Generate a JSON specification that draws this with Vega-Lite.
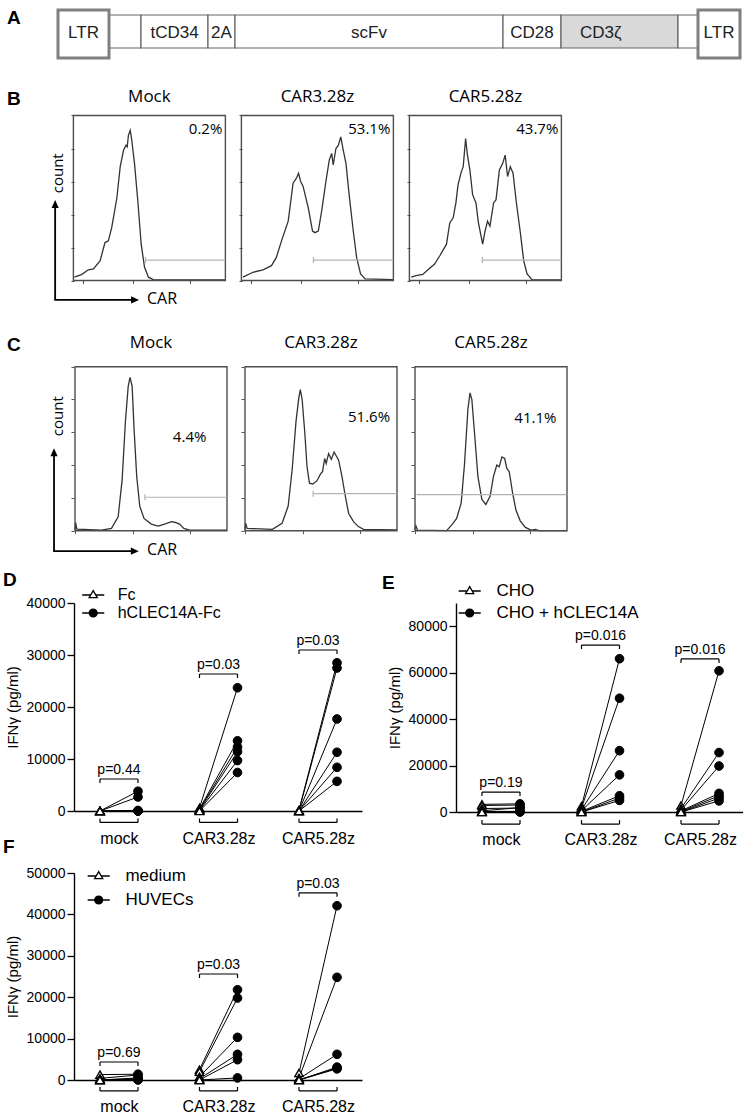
{
"$schema": "https://vega.github.io/schema/vega-lite/v6.json",
"background": "white",
"padding": {"left": 3, "top": 0, "right": 0, "bottom": 0},
"config": {"view": {"stroke": null}, "font": "Liberation Sans", "axis": {"grid": false, "labelFont": "Liberation Sans", "titleFont": "Liberation Sans"}, "legend": {"labelFont": "Liberation Sans"}},
"datasets": {
"construct": [
{"name":"LTR","start":56,"end":107,"kind":"ltr"},
{"name":"","start":107,"end":139,"kind":"seg"},
{"name":"tCD34","start":139,"end":206,"kind":"seg"},
{"name":"2A","start":206,"end":233,"kind":"seg"},
{"name":"scFv","start":233,"end":501,"kind":"seg"},
{"name":"CD28","start":501,"end":559,"kind":"seg"},
{"name":"CD3ζ","start":559,"end":676,"kind":"cd3"},
{"name":"","start":676,"end":696,"kind":"seg"},
{"name":"LTR","start":696,"end":738,"kind":"ltr"}
],
"flow": [
{"p":"B1","sample":"Mock","pct":"0.2%","gate":2.37},
{"p":"B2","sample":"CAR3.28z","pct":"53.1%","gate":2.37},
{"p":"B3","sample":"CAR5.28z","pct":"43.7%","gate":2.4},
{"p":"C1","sample":"Mock","pct":"4.4%","gate":2.3},
{"p":"C2","sample":"CAR3.28z","pct":"51.6%","gate":2.24},
{"p":"C3","sample":"CAR5.28z","pct":"41.1%","gate":0.05}
],
"hist": [
{"p":"B1","x":0.03,"c":2},{"p":"B1","x":0.27,"c":3.6},{"p":"B1","x":0.49,"c":6.5},{"p":"B1","x":0.66,"c":7},{"p":"B1","x":0.88,"c":12},{"p":"B1","x":1.04,"c":23},{"p":"B1","x":1.15,"c":24},{"p":"B1","x":1.26,"c":32},{"p":"B1","x":1.43,"c":50},{"p":"B1","x":1.54,"c":69},{"p":"B1","x":1.65,"c":79},{"p":"B1","x":1.73,"c":82},{"p":"B1","x":1.77,"c":81},{"p":"B1","x":1.81,"c":88},{"p":"B1","x":1.87,"c":91},{"p":"B1","x":1.92,"c":85},{"p":"B1","x":2.01,"c":71},{"p":"B1","x":2.12,"c":48},{"p":"B1","x":2.23,"c":22},{"p":"B1","x":2.34,"c":8},{"p":"B1","x":2.47,"c":2},{"p":"B1","x":2.64,"c":0.4},{"p":"B1","x":5,"c":0.4},
{"p":"B2","x":0.05,"c":2},{"p":"B2","x":0.38,"c":5},{"p":"B2","x":0.71,"c":6.5},{"p":"B2","x":0.99,"c":9},{"p":"B2","x":1.15,"c":14},{"p":"B2","x":1.32,"c":24},{"p":"B2","x":1.54,"c":36},{"p":"B2","x":1.7,"c":59},{"p":"B2","x":1.81,"c":62},{"p":"B2","x":1.88,"c":65},{"p":"B2","x":1.95,"c":60},{"p":"B2","x":2.03,"c":57},{"p":"B2","x":2.2,"c":44},{"p":"B2","x":2.34,"c":30},{"p":"B2","x":2.42,"c":29},{"p":"B2","x":2.53,"c":30},{"p":"B2","x":2.64,"c":42},{"p":"B2","x":2.78,"c":60},{"p":"B2","x":2.89,"c":73},{"p":"B2","x":2.97,"c":77},{"p":"B2","x":3.02,"c":70},{"p":"B2","x":3.11,"c":80},{"p":"B2","x":3.19,"c":82},{"p":"B2","x":3.27,"c":87},{"p":"B2","x":3.35,"c":79},{"p":"B2","x":3.44,"c":71},{"p":"B2","x":3.55,"c":51},{"p":"B2","x":3.68,"c":30},{"p":"B2","x":3.79,"c":14},{"p":"B2","x":3.92,"c":4},{"p":"B2","x":4.07,"c":1},{"p":"B2","x":5,"c":0.5},
{"p":"B3","x":0.06,"c":2},{"p":"B3","x":0.22,"c":3},{"p":"B3","x":0.44,"c":3.7},{"p":"B3","x":0.61,"c":6.5},{"p":"B3","x":0.83,"c":10},{"p":"B3","x":1.0,"c":15},{"p":"B3","x":1.22,"c":22},{"p":"B3","x":1.33,"c":35},{"p":"B3","x":1.44,"c":38},{"p":"B3","x":1.53,"c":47},{"p":"B3","x":1.6,"c":58},{"p":"B3","x":1.71,"c":66},{"p":"B3","x":1.77,"c":69},{"p":"B3","x":1.85,"c":86},{"p":"B3","x":1.91,"c":76},{"p":"B3","x":1.99,"c":67},{"p":"B3","x":2.08,"c":52},{"p":"B3","x":2.19,"c":47},{"p":"B3","x":2.27,"c":35},{"p":"B3","x":2.41,"c":22},{"p":"B3","x":2.49,"c":30},{"p":"B3","x":2.57,"c":36},{"p":"B3","x":2.65,"c":33},{"p":"B3","x":2.77,"c":47},{"p":"B3","x":2.85,"c":49},{"p":"B3","x":2.96,"c":67},{"p":"B3","x":3.07,"c":71},{"p":"B3","x":3.15,"c":76},{"p":"B3","x":3.23,"c":63},{"p":"B3","x":3.32,"c":69},{"p":"B3","x":3.41,"c":65},{"p":"B3","x":3.52,"c":47},{"p":"B3","x":3.65,"c":29},{"p":"B3","x":3.76,"c":12},{"p":"B3","x":3.87,"c":4},{"p":"B3","x":4.04,"c":0.4},{"p":"B3","x":5,"c":0.4},
{"p":"C1","x":0.0,"c":0.5},{"p":"C1","x":0.02,"c":5},{"p":"C1","x":0.06,"c":1},{"p":"C1","x":0.87,"c":0.4},{"p":"C1","x":1.2,"c":1.4},{"p":"C1","x":1.42,"c":8.5},{"p":"C1","x":1.55,"c":31},{"p":"C1","x":1.66,"c":67},{"p":"C1","x":1.75,"c":88},{"p":"C1","x":1.81,"c":93.5},{"p":"C1","x":1.88,"c":88},{"p":"C1","x":1.94,"c":63},{"p":"C1","x":2.03,"c":33},{"p":"C1","x":2.13,"c":15},{"p":"C1","x":2.27,"c":7.5},{"p":"C1","x":2.51,"c":4},{"p":"C1","x":2.73,"c":2.8},{"p":"C1","x":2.95,"c":4},{"p":"C1","x":3.17,"c":5.5},{"p":"C1","x":3.3,"c":5},{"p":"C1","x":3.44,"c":4},{"p":"C1","x":3.58,"c":1.4},{"p":"C1","x":3.77,"c":0.4},{"p":"C1","x":5,"c":0.4},
{"p":"C2","x":0.0,"c":0.5},{"p":"C2","x":0.02,"c":4.5},{"p":"C2","x":0.07,"c":1.4},{"p":"C2","x":0.9,"c":0.8},{"p":"C2","x":1.22,"c":4.5},{"p":"C2","x":1.42,"c":15},{"p":"C2","x":1.55,"c":37},{"p":"C2","x":1.68,"c":67},{"p":"C2","x":1.77,"c":81},{"p":"C2","x":1.82,"c":86},{"p":"C2","x":1.88,"c":80},{"p":"C2","x":1.97,"c":59},{"p":"C2","x":2.04,"c":39},{"p":"C2","x":2.12,"c":29},{"p":"C2","x":2.23,"c":28.5},{"p":"C2","x":2.37,"c":30.5},{"p":"C2","x":2.48,"c":34.5},{"p":"C2","x":2.55,"c":36},{"p":"C2","x":2.62,"c":44},{"p":"C2","x":2.67,"c":41},{"p":"C2","x":2.75,"c":47},{"p":"C2","x":2.84,"c":43.5},{"p":"C2","x":2.93,"c":48},{"p":"C2","x":2.99,"c":46},{"p":"C2","x":3.08,"c":43},{"p":"C2","x":3.19,"c":33},{"p":"C2","x":3.3,"c":21},{"p":"C2","x":3.41,"c":10.5},{"p":"C2","x":3.57,"c":5.5},{"p":"C2","x":3.73,"c":2.5},{"p":"C2","x":3.9,"c":0.8},{"p":"C2","x":5,"c":0.5},
{"p":"C3","x":0.0,"c":0.5},{"p":"C3","x":0.02,"c":3.5},{"p":"C3","x":0.08,"c":0.4},{"p":"C3","x":1.04,"c":0},{"p":"C3","x":1.21,"c":3.5},{"p":"C3","x":1.37,"c":7.5},{"p":"C3","x":1.52,"c":17},{"p":"C3","x":1.63,"c":41},{"p":"C3","x":1.74,"c":74},{"p":"C3","x":1.81,"c":84},{"p":"C3","x":1.87,"c":80},{"p":"C3","x":1.96,"c":59},{"p":"C3","x":2.07,"c":33},{"p":"C3","x":2.2,"c":19},{"p":"C3","x":2.33,"c":16},{"p":"C3","x":2.47,"c":21},{"p":"C3","x":2.58,"c":33},{"p":"C3","x":2.69,"c":40},{"p":"C3","x":2.77,"c":39},{"p":"C3","x":2.86,"c":45},{"p":"C3","x":2.95,"c":44},{"p":"C3","x":3.02,"c":38},{"p":"C3","x":3.1,"c":36},{"p":"C3","x":3.21,"c":23},{"p":"C3","x":3.32,"c":12.6},{"p":"C3","x":3.46,"c":6},{"p":"C3","x":3.63,"c":2},{"p":"C3","x":3.82,"c":0.4},{"p":"C3","x":3.96,"c":0.8},{"p":"C3","x":4.07,"c":0},{"p":"C3","x":5,"c":0}
],
"dD": [
{"cell":"mock","donor":1,"treat":"Fc","v":0},{"cell":"mock","donor":2,"treat":"Fc","v":0},{"cell":"mock","donor":3,"treat":"Fc","v":0},{"cell":"mock","donor":4,"treat":"Fc","v":0},{"cell":"mock","donor":5,"treat":"Fc","v":0},{"cell":"mock","donor":6,"treat":"Fc","v":0},
{"cell":"mock","donor":1,"treat":"hCLEC14A-Fc","v":3800},{"cell":"mock","donor":2,"treat":"hCLEC14A-Fc","v":2700},{"cell":"mock","donor":3,"treat":"hCLEC14A-Fc","v":100},{"cell":"mock","donor":4,"treat":"hCLEC14A-Fc","v":0},{"cell":"mock","donor":5,"treat":"hCLEC14A-Fc","v":0},{"cell":"mock","donor":6,"treat":"hCLEC14A-Fc","v":0},
{"cell":"CAR3.28z","donor":1,"treat":"Fc","v":600},{"cell":"CAR3.28z","donor":2,"treat":"Fc","v":400},{"cell":"CAR3.28z","donor":3,"treat":"Fc","v":300},{"cell":"CAR3.28z","donor":4,"treat":"Fc","v":200},{"cell":"CAR3.28z","donor":5,"treat":"Fc","v":100},{"cell":"CAR3.28z","donor":6,"treat":"Fc","v":0},
{"cell":"CAR3.28z","donor":1,"treat":"hCLEC14A-Fc","v":23700},{"cell":"CAR3.28z","donor":2,"treat":"hCLEC14A-Fc","v":13500},{"cell":"CAR3.28z","donor":3,"treat":"hCLEC14A-Fc","v":12300},{"cell":"CAR3.28z","donor":4,"treat":"hCLEC14A-Fc","v":11400},{"cell":"CAR3.28z","donor":5,"treat":"hCLEC14A-Fc","v":9700},{"cell":"CAR3.28z","donor":6,"treat":"hCLEC14A-Fc","v":7400},
{"cell":"CAR5.28z","donor":1,"treat":"Fc","v":200},{"cell":"CAR5.28z","donor":2,"treat":"Fc","v":100},{"cell":"CAR5.28z","donor":3,"treat":"Fc","v":0},{"cell":"CAR5.28z","donor":4,"treat":"Fc","v":0},{"cell":"CAR5.28z","donor":5,"treat":"Fc","v":0},{"cell":"CAR5.28z","donor":6,"treat":"Fc","v":0},
{"cell":"CAR5.28z","donor":1,"treat":"hCLEC14A-Fc","v":28500},{"cell":"CAR5.28z","donor":2,"treat":"hCLEC14A-Fc","v":27500},{"cell":"CAR5.28z","donor":3,"treat":"hCLEC14A-Fc","v":17700},{"cell":"CAR5.28z","donor":4,"treat":"hCLEC14A-Fc","v":11300},{"cell":"CAR5.28z","donor":5,"treat":"hCLEC14A-Fc","v":8400},{"cell":"CAR5.28z","donor":6,"treat":"hCLEC14A-Fc","v":5700}
],
"dE": [
{"cell":"mock","donor":1,"treat":"CHO","v":3300},{"cell":"mock","donor":2,"treat":"CHO","v":2800},{"cell":"mock","donor":3,"treat":"CHO","v":1500},{"cell":"mock","donor":4,"treat":"CHO","v":500},{"cell":"mock","donor":5,"treat":"CHO","v":200},{"cell":"mock","donor":6,"treat":"CHO","v":0},{"cell":"mock","donor":7,"treat":"CHO","v":0},
{"cell":"mock","donor":1,"treat":"CHO + hCLEC14A","v":3500},{"cell":"mock","donor":2,"treat":"CHO + hCLEC14A","v":3000},{"cell":"mock","donor":3,"treat":"CHO + hCLEC14A","v":1700},{"cell":"mock","donor":4,"treat":"CHO + hCLEC14A","v":1900},{"cell":"mock","donor":5,"treat":"CHO + hCLEC14A","v":300},{"cell":"mock","donor":6,"treat":"CHO + hCLEC14A","v":0},{"cell":"mock","donor":7,"treat":"CHO + hCLEC14A","v":100},
{"cell":"CAR3.28z","donor":1,"treat":"CHO","v":2500},{"cell":"CAR3.28z","donor":2,"treat":"CHO","v":1800},{"cell":"CAR3.28z","donor":3,"treat":"CHO","v":1000},{"cell":"CAR3.28z","donor":4,"treat":"CHO","v":600},{"cell":"CAR3.28z","donor":5,"treat":"CHO","v":300},{"cell":"CAR3.28z","donor":6,"treat":"CHO","v":0},{"cell":"CAR3.28z","donor":7,"treat":"CHO","v":0},
{"cell":"CAR3.28z","donor":1,"treat":"CHO + hCLEC14A","v":66000},{"cell":"CAR3.28z","donor":2,"treat":"CHO + hCLEC14A","v":49000},{"cell":"CAR3.28z","donor":3,"treat":"CHO + hCLEC14A","v":26400},{"cell":"CAR3.28z","donor":4,"treat":"CHO + hCLEC14A","v":16000},{"cell":"CAR3.28z","donor":5,"treat":"CHO + hCLEC14A","v":7000},{"cell":"CAR3.28z","donor":6,"treat":"CHO + hCLEC14A","v":6000},{"cell":"CAR3.28z","donor":7,"treat":"CHO + hCLEC14A","v":5000},
{"cell":"CAR5.28z","donor":1,"treat":"CHO","v":2800},{"cell":"CAR5.28z","donor":2,"treat":"CHO","v":1500},{"cell":"CAR5.28z","donor":3,"treat":"CHO","v":800},{"cell":"CAR5.28z","donor":4,"treat":"CHO","v":500},{"cell":"CAR5.28z","donor":5,"treat":"CHO","v":200},{"cell":"CAR5.28z","donor":6,"treat":"CHO","v":0},{"cell":"CAR5.28z","donor":7,"treat":"CHO","v":0},
{"cell":"CAR5.28z","donor":1,"treat":"CHO + hCLEC14A","v":60800},{"cell":"CAR5.28z","donor":2,"treat":"CHO + hCLEC14A","v":25600},{"cell":"CAR5.28z","donor":3,"treat":"CHO + hCLEC14A","v":19800},{"cell":"CAR5.28z","donor":4,"treat":"CHO + hCLEC14A","v":8000},{"cell":"CAR5.28z","donor":5,"treat":"CHO + hCLEC14A","v":7000},{"cell":"CAR5.28z","donor":6,"treat":"CHO + hCLEC14A","v":6000},{"cell":"CAR5.28z","donor":7,"treat":"CHO + hCLEC14A","v":4800}
],
"dF": [
{"cell":"mock","donor":1,"treat":"medium","v":1300},{"cell":"mock","donor":2,"treat":"medium","v":400},{"cell":"mock","donor":3,"treat":"medium","v":0},{"cell":"mock","donor":4,"treat":"medium","v":0},{"cell":"mock","donor":5,"treat":"medium","v":0},{"cell":"mock","donor":6,"treat":"medium","v":0},
{"cell":"mock","donor":1,"treat":"HUVECs","v":1400},{"cell":"mock","donor":2,"treat":"HUVECs","v":1200},{"cell":"mock","donor":3,"treat":"HUVECs","v":500},{"cell":"mock","donor":4,"treat":"HUVECs","v":300},{"cell":"mock","donor":5,"treat":"HUVECs","v":100},{"cell":"mock","donor":6,"treat":"HUVECs","v":0},
{"cell":"CAR3.28z","donor":1,"treat":"medium","v":2500},{"cell":"CAR3.28z","donor":2,"treat":"medium","v":2000},{"cell":"CAR3.28z","donor":3,"treat":"medium","v":800},{"cell":"CAR3.28z","donor":4,"treat":"medium","v":300},{"cell":"CAR3.28z","donor":5,"treat":"medium","v":0},{"cell":"CAR3.28z","donor":6,"treat":"medium","v":0},
{"cell":"CAR3.28z","donor":1,"treat":"HUVECs","v":21800},{"cell":"CAR3.28z","donor":2,"treat":"HUVECs","v":19800},{"cell":"CAR3.28z","donor":3,"treat":"HUVECs","v":10300},{"cell":"CAR3.28z","donor":4,"treat":"HUVECs","v":6200},{"cell":"CAR3.28z","donor":5,"treat":"HUVECs","v":4900},{"cell":"CAR3.28z","donor":6,"treat":"HUVECs","v":500},
{"cell":"CAR5.28z","donor":1,"treat":"medium","v":1700},{"cell":"CAR5.28z","donor":2,"treat":"medium","v":500},{"cell":"CAR5.28z","donor":3,"treat":"medium","v":300},{"cell":"CAR5.28z","donor":4,"treat":"medium","v":0},{"cell":"CAR5.28z","donor":5,"treat":"medium","v":0},{"cell":"CAR5.28z","donor":6,"treat":"medium","v":0},
{"cell":"CAR5.28z","donor":1,"treat":"HUVECs","v":42100},{"cell":"CAR5.28z","donor":2,"treat":"HUVECs","v":24800},{"cell":"CAR5.28z","donor":3,"treat":"HUVECs","v":6200},{"cell":"CAR5.28z","donor":4,"treat":"HUVECs","v":3100},{"cell":"CAR5.28z","donor":5,"treat":"HUVECs","v":2900},{"cell":"CAR5.28z","donor":6,"treat":"HUVECs","v":2700}
],
"bD": [
{"cell":"mock","treat":"Fc","lvl":6150,"p":"p=0.44"},{"cell":"mock","treat":"hCLEC14A-Fc","lvl":6150,"p":"p=0.44"},
{"cell":"CAR3.28z","treat":"Fc","lvl":26350,"p":"p=0.03"},{"cell":"CAR3.28z","treat":"hCLEC14A-Fc","lvl":26350,"p":"p=0.03"},
{"cell":"CAR5.28z","treat":"Fc","lvl":30960,"p":"p=0.03"},{"cell":"CAR5.28z","treat":"hCLEC14A-Fc","lvl":30960,"p":"p=0.03"}
],
"bE": [
{"cell":"mock","treat":"CHO","lvl":8600,"p":"p=0.19"},{"cell":"mock","treat":"CHO + hCLEC14A","lvl":8600,"p":"p=0.19"},
{"cell":"CAR3.28z","treat":"CHO","lvl":71900,"p":"p=0.016"},{"cell":"CAR3.28z","treat":"CHO + hCLEC14A","lvl":71900,"p":"p=0.016"},
{"cell":"CAR5.28z","treat":"CHO","lvl":65900,"p":"p=0.016"},{"cell":"CAR5.28z","treat":"CHO + hCLEC14A","lvl":65900,"p":"p=0.016"}
],
"bF": [
{"cell":"mock","treat":"medium","lvl":4350,"p":"p=0.69"},{"cell":"mock","treat":"HUVECs","lvl":4350,"p":"p=0.69"},
{"cell":"CAR3.28z","treat":"medium","lvl":25600,"p":"p=0.03"},{"cell":"CAR3.28z","treat":"HUVECs","lvl":25600,"p":"p=0.03"},
{"cell":"CAR5.28z","treat":"medium","lvl":45200,"p":"p=0.03"},{"cell":"CAR5.28z","treat":"HUVECs","lvl":45200,"p":"p=0.03"}
]
},
"spacing": 0,
"resolve": {"scale": {"shape": "independent"}, "legend": {"shape": "independent"}},
"vconcat": [
{
"width": 671, "height": 66,
"data": {"name": "construct"},
"layer": [
{"transform": [{"filter": "datum.kind !== 'ltr'"}],
 "mark": {"type": "rect", "stroke": "#666666", "strokeWidth": 1.2},
 "encoding": {
  "x": {"field": "start", "type": "quantitative", "scale": {"domain": [72, 743], "nice": false, "zero": false}, "axis": null},
  "x2": {"field": "end"},
  "y": {"datum": 15, "type": "quantitative", "scale": {"domain": [0, 66], "reverse": true, "nice": false, "zero": false}, "axis": null},
  "y2": {"datum": 48},
  "fill": {"field": "kind", "type": "nominal", "scale": {"domain": ["seg", "cd3"], "range": ["white", "#d9d9d9"]}, "legend": null}}},
{"transform": [{"filter": "datum.kind === 'ltr'"}],
 "mark": {"type": "rect", "fill": "white", "stroke": "#808080", "strokeWidth": 3},
 "encoding": {"x": {"field": "start", "type": "quantitative"}, "x2": {"field": "end"}, "y": {"datum": 10, "type": "quantitative"}, "y2": {"datum": 58}}},
{"transform": [{"filter": "datum.kind !== 'cd3' && datum.name !== ''"}, {"calculate": "(datum.start + datum.end) / 2", "as": "mid"}],
 "mark": {"type": "text", "font": "Liberation Sans", "fontSize": 17, "color": "#222222"},
 "encoding": {"x": {"field": "mid", "type": "quantitative"}, "y": {"datum": 33, "type": "quantitative"}, "text": {"field": "name"}}},
{"transform": [{"filter": "datum.kind === 'cd3'"}],
 "mark": {"type": "text", "font": "Liberation Sans", "fontSize": 17, "color": "#222222", "align": "left", "dx": 19},
 "encoding": {"x": {"field": "start", "type": "quantitative"}, "y": {"datum": 33, "type": "quantitative"}, "text": {"field": "name"}}},
{"data": {"values": [{}]},
 "mark": {"type": "text", "text": "A", "font": "Liberation Sans", "fontSize": 19, "fontWeight": "bold", "align": "left", "color": "black"},
 "encoding": {"x": {"datum": 5, "type": "quantitative"}, "y": {"datum": 18, "type": "quantitative"}}}
]
},
{"spacing": 0, "hconcat": [
{"width": 163.55, "height": 250.8,
"layer": [
{"data": {"name": "hist"}, "transform": [{"filter": "datum.p === 'B1'"}],
 "mark": {"type": "line", "color": "#333333", "strokeWidth": 1.3},
 "encoding": {"x": {"field": "x", "type": "quantitative", "scale": {"domain": [0.02, 5.4], "nice": false, "zero": false}, "axis": {"orient": "bottom", "offset": -36.3, "values": [0,0.301,0.477,0.602,0.699,0.778,0.845,0.903,0.954,1,1.301,1.477,1.602,1.699,1.778,1.845,1.903,1.954,2,2.301,2.477,2.602,2.699,2.778,2.845,2.903,2.954,3,3.301,3.477,3.602,3.699,3.778,3.845,3.903,3.954,4,4.301,4.477,4.602,4.699,4.778,4.845,4.903,4.954,5], "labels": false, "domain": false, "ticks": true, "tickSize": 3, "tickColor": "#555555", "tickWidth": 1, "title": null, "grid": false}},
  "y": {"field": "c", "type": "quantitative", "scale": {"domain": [-22, 130], "nice": false, "zero": false}, "axis": {"values": [0,5,10,15,20,25,30,35,40,45,50,55,60,65,70,75,80,85,90,95,100], "labels": false, "domain": false, "ticks": true, "tickSize": 3, "tickColor": "#555555", "tickWidth": 1, "title": null, "grid": false}}}},
{"data": {"values": [{}]}, "mark": {"type": "rect", "fillOpacity": 0, "stroke": "#4d4d4d", "strokeWidth": 1.4},
 "encoding": {"x": {"datum": 0}, "x2": {"datum": 5}, "y": {"datum": 0}, "y2": {"datum": 100}}},
{"data": {"name": "flow"}, "transform": [{"filter": "datum.p === 'B1'"}],
 "mark": {"type": "rule", "color": "#b3b3b3", "strokeWidth": 1.2},
 "encoding": {"x": {"field": "gate", "type": "quantitative"}, "x2": {"datum": 5}, "y": {"datum": 12.4}}},
{"data": {"name": "flow"}, "transform": [{"filter": "datum.p === 'B1'"}],
 "mark": {"type": "point", "shape": "M0,-1L0,1", "filled": false, "stroke": "#b3b3b3", "strokeWidth": 1.2, "size": 36, "opacity": 1},
 "encoding": {"x": {"field": "gate", "type": "quantitative"}, "y": {"datum": 12.4}}},
{"data": {"name": "flow"}, "transform": [{"filter": "datum.p === 'B1'"}],
 "mark": {"type": "text", "font": "Open Sans", "fontSize": 17, "color": "black"},
 "encoding": {"x": {"datum": 2.5}, "y": {"datum": 111}, "text": {"field": "sample"}}},
{"data": {"name": "flow"}, "transform": [{"filter": "datum.p === 'B1'"}],
 "mark": {"type": "text", "font": "Open Sans", "fontSize": 15, "align": "right", "color": "black"},
 "encoding": {"x": {"datum": 4.9}, "y": {"datum": 92}, "text": {"field": "pct"}}},
{"data": {"values": [{}]}, "mark": {"type": "text", "text": "B", "font": "Liberation Sans", "fontSize": 19, "fontWeight": "bold", "align": "left", "color": "black"},
 "encoding": {"x": {"datum": -2.18}, "y": {"datum": 110}}},
{"data": {"values": [{}]}, "mark": {"type": "text", "text": "count", "font": "Open Sans", "fontSize": 15, "angle": 270, "color": "black"},
 "encoding": {"x": {"datum": -0.5}, "y": {"datum": 65}}},
{"data": {"values": [{}]}, "mark": {"type": "text", "text": "CAR", "font": "Open Sans", "fontSize": 16, "align": "left", "color": "black"},
 "encoding": {"x": {"datum": 2.42}, "y": {"datum": -11.3}}},
{"data": {"values": [{}]}, "mark": {"type": "rule", "color": "black", "strokeWidth": 1.8},
 "encoding": {"x": {"datum": -0.6}, "y": {"datum": -11.8}, "y2": {"datum": 45}}},
{"data": {"values": [{}]}, "mark": {"type": "rule", "color": "black", "strokeWidth": 1.8},
 "encoding": {"x": {"datum": -0.63}, "x2": {"datum": 1.95}, "y": {"datum": -11.8}}},
{"data": {"values": [{}]}, "mark": {"type": "point", "shape": "M0,0L0.9,2L-0.9,2Z", "filled": true, "color": "black", "size": 64, "opacity": 1},
 "encoding": {"x": {"datum": -0.6}, "y": {"datum": 48.8}}},
{"data": {"values": [{}]}, "mark": {"type": "point", "shape": "M0,0L-2,-0.9L-2,0.9Z", "filled": true, "color": "black", "size": 64, "opacity": 1},
 "encoding": {"x": {"datum": 2.16}, "y": {"datum": -11.8}}}
]},
{"width": 163.55, "height": 250.8,
"layer": [
{"data": {"name": "hist"}, "transform": [{"filter": "datum.p === 'B2'"}],
 "mark": {"type": "line", "color": "#333333", "strokeWidth": 1.3},
 "encoding": {"x": {"field": "x", "type": "quantitative", "scale": {"domain": [0.02, 5.4], "nice": false, "zero": false}, "axis": {"orient": "bottom", "offset": -36.3, "values": [0,0.301,0.477,0.602,0.699,0.778,0.845,0.903,0.954,1,1.301,1.477,1.602,1.699,1.778,1.845,1.903,1.954,2,2.301,2.477,2.602,2.699,2.778,2.845,2.903,2.954,3,3.301,3.477,3.602,3.699,3.778,3.845,3.903,3.954,4,4.301,4.477,4.602,4.699,4.778,4.845,4.903,4.954,5], "labels": false, "domain": false, "ticks": true, "tickSize": 3, "tickColor": "#555555", "tickWidth": 1, "title": null, "grid": false}},
  "y": {"field": "c", "type": "quantitative", "scale": {"domain": [-22, 130], "nice": false, "zero": false}, "axis": {"values": [0,5,10,15,20,25,30,35,40,45,50,55,60,65,70,75,80,85,90,95,100], "labels": false, "domain": false, "ticks": true, "tickSize": 3, "tickColor": "#555555", "tickWidth": 1, "title": null, "grid": false}}}},
{"data": {"values": [{}]}, "mark": {"type": "rect", "fillOpacity": 0, "stroke": "#4d4d4d", "strokeWidth": 1.4},
 "encoding": {"x": {"datum": 0}, "x2": {"datum": 5}, "y": {"datum": 0}, "y2": {"datum": 100}}},
{"data": {"name": "flow"}, "transform": [{"filter": "datum.p === 'B2'"}],
 "mark": {"type": "rule", "color": "#b3b3b3", "strokeWidth": 1.2},
 "encoding": {"x": {"field": "gate", "type": "quantitative"}, "x2": {"datum": 5}, "y": {"datum": 12.4}}},
{"data": {"name": "flow"}, "transform": [{"filter": "datum.p === 'B2'"}],
 "mark": {"type": "point", "shape": "M0,-1L0,1", "filled": false, "stroke": "#b3b3b3", "strokeWidth": 1.2, "size": 36, "opacity": 1},
 "encoding": {"x": {"field": "gate", "type": "quantitative"}, "y": {"datum": 12.4}}},
{"data": {"name": "flow"}, "transform": [{"filter": "datum.p === 'B2'"}],
 "mark": {"type": "text", "font": "Open Sans", "fontSize": 17, "color": "black"},
 "encoding": {"x": {"datum": 2.5}, "y": {"datum": 111}, "text": {"field": "sample"}}},
{"data": {"name": "flow"}, "transform": [{"filter": "datum.p === 'B2'"}],
 "mark": {"type": "text", "font": "Open Sans", "fontSize": 15, "align": "right", "color": "black"},
 "encoding": {"x": {"datum": 4.9}, "y": {"datum": 92}, "text": {"field": "pct"}}}
]},
{"width": 154.43, "height": 250.8,
"layer": [
{"data": {"name": "hist"}, "transform": [{"filter": "datum.p === 'B3'"}],
 "mark": {"type": "line", "color": "#333333", "strokeWidth": 1.3},
 "encoding": {"x": {"field": "x", "type": "quantitative", "scale": {"domain": [0.02, 5.1], "nice": false, "zero": false}, "axis": {"orient": "bottom", "offset": -36.3, "values": [0,0.301,0.477,0.602,0.699,0.778,0.845,0.903,0.954,1,1.301,1.477,1.602,1.699,1.778,1.845,1.903,1.954,2,2.301,2.477,2.602,2.699,2.778,2.845,2.903,2.954,3,3.301,3.477,3.602,3.699,3.778,3.845,3.903,3.954,4,4.301,4.477,4.602,4.699,4.778,4.845,4.903,4.954,5], "labels": false, "domain": false, "ticks": true, "tickSize": 3, "tickColor": "#555555", "tickWidth": 1, "title": null, "grid": false}},
  "y": {"field": "c", "type": "quantitative", "scale": {"domain": [-22, 130], "nice": false, "zero": false}, "axis": {"values": [0,5,10,15,20,25,30,35,40,45,50,55,60,65,70,75,80,85,90,95,100], "labels": false, "domain": false, "ticks": true, "tickSize": 3, "tickColor": "#555555", "tickWidth": 1, "title": null, "grid": false}}}},
{"data": {"values": [{}]}, "mark": {"type": "rect", "fillOpacity": 0, "stroke": "#4d4d4d", "strokeWidth": 1.4},
 "encoding": {"x": {"datum": 0}, "x2": {"datum": 5}, "y": {"datum": 0}, "y2": {"datum": 100}}},
{"data": {"name": "flow"}, "transform": [{"filter": "datum.p === 'B3'"}],
 "mark": {"type": "rule", "color": "#b3b3b3", "strokeWidth": 1.2},
 "encoding": {"x": {"field": "gate", "type": "quantitative"}, "x2": {"datum": 5}, "y": {"datum": 12.4}}},
{"data": {"name": "flow"}, "transform": [{"filter": "datum.p === 'B3'"}],
 "mark": {"type": "point", "shape": "M0,-1L0,1", "filled": false, "stroke": "#b3b3b3", "strokeWidth": 1.2, "size": 36, "opacity": 1},
 "encoding": {"x": {"field": "gate", "type": "quantitative"}, "y": {"datum": 12.4}}},
{"data": {"name": "flow"}, "transform": [{"filter": "datum.p === 'B3'"}],
 "mark": {"type": "text", "font": "Open Sans", "fontSize": 17, "color": "black"},
 "encoding": {"x": {"datum": 2.5}, "y": {"datum": 111}, "text": {"field": "sample"}}},
{"data": {"name": "flow"}, "transform": [{"filter": "datum.p === 'B3'"}],
 "mark": {"type": "text", "font": "Open Sans", "fontSize": 15, "align": "right", "color": "black"},
 "encoding": {"x": {"datum": 4.9}, "y": {"datum": 92}, "text": {"field": "pct"}}}
]}
]},
{"spacing": 0, "hconcat": [
{"width": 165.16, "height": 253.05,
"layer": [
{"data": {"name": "hist"}, "transform": [{"filter": "datum.p === 'C1'"}],
 "mark": {"type": "line", "color": "#333333", "strokeWidth": 1.3},
 "encoding": {"x": {"field": "x", "type": "quantitative", "scale": {"domain": [-0.033, 5.4], "nice": false, "zero": false}, "axis": {"orient": "bottom", "offset": -39.4, "values": [0,0.301,0.477,0.602,0.699,0.778,0.845,0.903,0.954,1,1.301,1.477,1.602,1.699,1.778,1.845,1.903,1.954,2,2.301,2.477,2.602,2.699,2.778,2.845,2.903,2.954,3,3.301,3.477,3.602,3.699,3.778,3.845,3.903,3.954,4,4.301,4.477,4.602,4.699,4.778,4.845,4.903,4.954,5], "labels": false, "domain": false, "ticks": true, "tickSize": 3, "tickColor": "#555555", "tickWidth": 1, "title": null, "grid": false}},
  "y": {"field": "c", "type": "quantitative", "scale": {"domain": [-24, 130.3], "nice": false, "zero": false}, "axis": {"values": [0,10,20,30,40,50,60,70,80,90,100], "labels": false, "domain": false, "ticks": true, "tickSize": 3, "tickColor": "#555555", "tickWidth": 1, "title": null, "grid": false}}}},
{"data": {"values": [{}]}, "mark": {"type": "rect", "fillOpacity": 0, "stroke": "#4d4d4d", "strokeWidth": 1.4},
 "encoding": {"x": {"datum": 0}, "x2": {"datum": 5}, "y": {"datum": 0}, "y2": {"datum": 100}}},
{"data": {"name": "flow"}, "transform": [{"filter": "datum.p === 'C1'"}],
 "mark": {"type": "rule", "color": "#b3b3b3", "strokeWidth": 1.2},
 "encoding": {"x": {"field": "gate", "type": "quantitative"}, "x2": {"datum": 5}, "y": {"datum": 20.4}}},
{"data": {"name": "flow"}, "transform": [{"filter": "datum.p === 'C1'"}],
 "mark": {"type": "point", "shape": "M0,-1L0,1", "filled": false, "stroke": "#b3b3b3", "strokeWidth": 1.2, "size": 36, "opacity": 1},
 "encoding": {"x": {"field": "gate", "type": "quantitative"}, "y": {"datum": 20.4}}},
{"data": {"name": "flow"}, "transform": [{"filter": "datum.p === 'C1'"}],
 "mark": {"type": "text", "font": "Open Sans", "fontSize": 17, "color": "black"},
 "encoding": {"x": {"datum": 2.5}, "y": {"datum": 114.3}, "text": {"field": "sample"}}},
{"data": {"name": "flow"}, "transform": [{"filter": "datum.p === 'C1'"}],
 "mark": {"type": "text", "font": "Open Sans", "fontSize": 15, "color": "black"},
 "encoding": {"x": {"datum": 3.77}, "y": {"datum": 57}, "text": {"field": "pct"}}},
{"data": {"values": [{}]}, "mark": {"type": "text", "text": "C", "font": "Liberation Sans", "fontSize": 19, "fontWeight": "bold", "align": "left", "color": "black"},
 "encoding": {"x": {"datum": -2.24}, "y": {"datum": 113.4}}},
{"data": {"values": [{}]}, "mark": {"type": "text", "text": "count", "font": "Open Sans", "fontSize": 15, "angle": 270, "color": "black"},
 "encoding": {"x": {"datum": -0.56}, "y": {"datum": 69.8}}},
{"data": {"values": [{}]}, "mark": {"type": "text", "text": "CAR", "font": "Open Sans", "fontSize": 16, "align": "left", "color": "black"},
 "encoding": {"x": {"datum": 2.37}, "y": {"datum": -11.5}}},
{"data": {"values": [{}]}, "mark": {"type": "rule", "color": "black", "strokeWidth": 1.8},
 "encoding": {"x": {"datum": -0.69}, "y": {"datum": -12.5}, "y2": {"datum": 47}}},
{"data": {"values": [{}]}, "mark": {"type": "rule", "color": "black", "strokeWidth": 1.8},
 "encoding": {"x": {"datum": -0.72}, "x2": {"datum": 1.9}, "y": {"datum": -12.5}}},
{"data": {"values": [{}]}, "mark": {"type": "point", "shape": "M0,0L0.9,2L-0.9,2Z", "filled": true, "color": "black", "size": 64, "opacity": 1},
 "encoding": {"x": {"datum": -0.69}, "y": {"datum": 50.3}}},
{"data": {"values": [{}]}, "mark": {"type": "point", "shape": "M0,0L-2,-0.9L-2,0.9Z", "filled": true, "color": "black", "size": 64, "opacity": 1},
 "encoding": {"x": {"datum": 2.1}, "y": {"datum": -12.5}}}
]},
{"width": 165.16, "height": 253.05,
"layer": [
{"data": {"name": "hist"}, "transform": [{"filter": "datum.p === 'C2'"}],
 "mark": {"type": "line", "color": "#333333", "strokeWidth": 1.3},
 "encoding": {"x": {"field": "x", "type": "quantitative", "scale": {"domain": [-0.033, 5.4], "nice": false, "zero": false}, "axis": {"orient": "bottom", "offset": -39.4, "values": [0,0.301,0.477,0.602,0.699,0.778,0.845,0.903,0.954,1,1.301,1.477,1.602,1.699,1.778,1.845,1.903,1.954,2,2.301,2.477,2.602,2.699,2.778,2.845,2.903,2.954,3,3.301,3.477,3.602,3.699,3.778,3.845,3.903,3.954,4,4.301,4.477,4.602,4.699,4.778,4.845,4.903,4.954,5], "labels": false, "domain": false, "ticks": true, "tickSize": 3, "tickColor": "#555555", "tickWidth": 1, "title": null, "grid": false}},
  "y": {"field": "c", "type": "quantitative", "scale": {"domain": [-24, 130.3], "nice": false, "zero": false}, "axis": {"values": [0,10,20,30,40,50,60,70,80,90,100], "labels": false, "domain": false, "ticks": true, "tickSize": 3, "tickColor": "#555555", "tickWidth": 1, "title": null, "grid": false}}}},
{"data": {"values": [{}]}, "mark": {"type": "rect", "fillOpacity": 0, "stroke": "#4d4d4d", "strokeWidth": 1.4},
 "encoding": {"x": {"datum": 0}, "x2": {"datum": 5}, "y": {"datum": 0}, "y2": {"datum": 100}}},
{"data": {"name": "flow"}, "transform": [{"filter": "datum.p === 'C2'"}],
 "mark": {"type": "rule", "color": "#b3b3b3", "strokeWidth": 1.2},
 "encoding": {"x": {"field": "gate", "type": "quantitative"}, "x2": {"datum": 5}, "y": {"datum": 22.6}}},
{"data": {"name": "flow"}, "transform": [{"filter": "datum.p === 'C2'"}],
 "mark": {"type": "point", "shape": "M0,-1L0,1", "filled": false, "stroke": "#b3b3b3", "strokeWidth": 1.2, "size": 36, "opacity": 1},
 "encoding": {"x": {"field": "gate", "type": "quantitative"}, "y": {"datum": 22.6}}},
{"data": {"name": "flow"}, "transform": [{"filter": "datum.p === 'C2'"}],
 "mark": {"type": "text", "font": "Open Sans", "fontSize": 17, "color": "black"},
 "encoding": {"x": {"datum": 2.5}, "y": {"datum": 114.3}, "text": {"field": "sample"}}},
{"data": {"name": "flow"}, "transform": [{"filter": "datum.p === 'C2'"}],
 "mark": {"type": "text", "font": "Open Sans", "fontSize": 15, "color": "black"},
 "encoding": {"x": {"datum": 4.08}, "y": {"datum": 69.2}, "text": {"field": "pct"}}}
]},
{"width": 156.04, "height": 253.05,
"layer": [
{"data": {"name": "hist"}, "transform": [{"filter": "datum.p === 'C3'"}],
 "mark": {"type": "line", "color": "#333333", "strokeWidth": 1.3},
 "encoding": {"x": {"field": "x", "type": "quantitative", "scale": {"domain": [-0.033, 5.1], "nice": false, "zero": false}, "axis": {"orient": "bottom", "offset": -39.4, "values": [0,0.301,0.477,0.602,0.699,0.778,0.845,0.903,0.954,1,1.301,1.477,1.602,1.699,1.778,1.845,1.903,1.954,2,2.301,2.477,2.602,2.699,2.778,2.845,2.903,2.954,3,3.301,3.477,3.602,3.699,3.778,3.845,3.903,3.954,4,4.301,4.477,4.602,4.699,4.778,4.845,4.903,4.954,5], "labels": false, "domain": false, "ticks": true, "tickSize": 3, "tickColor": "#555555", "tickWidth": 1, "title": null, "grid": false}},
  "y": {"field": "c", "type": "quantitative", "scale": {"domain": [-24, 130.3], "nice": false, "zero": false}, "axis": {"values": [0,10,20,30,40,50,60,70,80,90,100], "labels": false, "domain": false, "ticks": true, "tickSize": 3, "tickColor": "#555555", "tickWidth": 1, "title": null, "grid": false}}}},
{"data": {"values": [{}]}, "mark": {"type": "rect", "fillOpacity": 0, "stroke": "#4d4d4d", "strokeWidth": 1.4},
 "encoding": {"x": {"datum": 0}, "x2": {"datum": 5}, "y": {"datum": 0}, "y2": {"datum": 100}}},
{"data": {"name": "flow"}, "transform": [{"filter": "datum.p === 'C3'"}],
 "mark": {"type": "rule", "color": "#b3b3b3", "strokeWidth": 1.2},
 "encoding": {"x": {"field": "gate", "type": "quantitative"}, "x2": {"datum": 5}, "y": {"datum": 22}}},
{"data": {"name": "flow"}, "transform": [{"filter": "datum.p === 'C3'"}],
 "mark": {"type": "text", "font": "Open Sans", "fontSize": 17, "color": "black"},
 "encoding": {"x": {"datum": 2.5}, "y": {"datum": 114.3}, "text": {"field": "sample"}}},
{"data": {"name": "flow"}, "transform": [{"filter": "datum.p === 'C3'"}],
 "mark": {"type": "text", "font": "Open Sans", "fontSize": 15, "color": "black"},
 "encoding": {"x": {"datum": 3.96}, "y": {"datum": 68.6}, "text": {"field": "pct"}}}
]}
]},
{"spacing": -9,
 "resolve": {"scale": {"shape": "independent"}, "legend": {"shape": "independent"}},
 "vconcat": [
{"spacing": 20,
 "resolve": {"scale": {"shape": "independent"}, "legend": {"shape": "independent"}},
 "hconcat": [
{"width": 288, "height": 208,
 "title": {"text": "D", "anchor": "start", "frame": "bounds", "font": "Liberation Sans", "fontSize": 19, "fontWeight": "bold", "color": "black", "offset": -3, "dx": -2},
 "layer": [
 {"data": {"name": "dD"}, "transform": [{"calculate": "indexof(['mock','CAR3.28z','CAR5.28z'], datum.cell) + (datum.treat === 'Fc' ? -0.191 : 0.191)", "as": "px"}],
  "mark": {"type": "line", "color": "black", "strokeWidth": 1},
  "encoding": {
   "x": {"field": "px", "type": "quantitative", "scale": {"domain": [-0.452, 2.442], "nice": false, "zero": false}, "axis": {"values": [0, 1, 2], "labelExpr": "['mock','CAR3.28z','CAR5.28z'][datum.value]", "title": null, "ticks": false, "labelFlush": false, "labelOverlap": false, "labelFontSize": 16, "labelColor": "black", "labelPadding": 19, "domainColor": "black", "domainWidth": 1.4}},
   "y": {"field": "v", "type": "quantitative", "scale": {"domain": [0, 40000], "nice": false}, "axis": {"values": [0, 10000, 20000, 30000, 40000], "format": "d", "title": "IFNγ (pg/ml)", "titleFontSize": 15, "titleFontWeight": "normal", "titleColor": "black", "titlePadding": 6, "labelFontSize": 14, "labelColor": "black", "labelPadding": 2, "labelFlush": false, "tickSize": 7, "tickColor": "black", "tickWidth": 1.3, "domainColor": "black", "domainWidth": 1.4}},
   "detail": [{"field": "cell", "type": "nominal"}, {"field": "donor", "type": "nominal"}]}},
 {"data": {"name": "dD"}, "transform": [{"filter": "datum.treat === 'Fc'"}, {"calculate": "indexof(['mock','CAR3.28z','CAR5.28z'], datum.cell) - 0.191", "as": "px"}],
  "mark": {"type": "point", "shape": "triangle-up", "filled": true, "fill": "white", "stroke": "black", "strokeWidth": 1.4, "opacity": 1, "size": 70},
  "encoding": {"x": {"field": "px", "type": "quantitative"}, "y": {"field": "v", "type": "quantitative"}}},
 {"data": {"name": "dD"}, "transform": [{"filter": "datum.treat !== 'Fc'"}, {"calculate": "indexof(['mock','CAR3.28z','CAR5.28z'], datum.cell) + 0.191", "as": "px"}],
  "mark": {"type": "point", "shape": "circle", "filled": true, "fill": "black", "stroke": "black", "strokeWidth": 1, "opacity": 1, "size": 75},
  "encoding": {"x": {"field": "px", "type": "quantitative"}, "y": {"field": "v", "type": "quantitative"}}},
 {"data": {"name": "dD"}, "transform": [{"filter": "false"}],
  "mark": {"type": "point", "filled": false, "color": "black", "strokeWidth": 1.3, "opacity": 1, "size": 135},
  "encoding": {
   "shape": {"field": "treat", "type": "nominal", "scale": {"domain": ["Fc", "hCLEC14A-Fc"], "range": ["M-1.9,0L-0.42,0M0.42,0L1.9,0M0,-0.75L0.7,0.45L-0.7,0.45Z", "M-1.9,0L1.9,0M0.68,0A0.68,0.68,0,1,1,-0.68,0A0.68,0.68,0,1,1,0.68,0M0.5,0A0.5,0.5,0,1,1,-0.5,0A0.5,0.5,0,1,1,0.5,0M0.32,0A0.32,0.32,0,1,1,-0.32,0A0.32,0.32,0,1,1,0.32,0M0.14,0A0.14,0.14,0,1,1,-0.14,0A0.14,0.14,0,1,1,0.14,0"]},
    "legend": {"title": null, "orient": "none", "legendX": 11.2, "legendY": -16, "padding": 0, "labelFontSize": 16, "labelColor": "black", "labelOffset": 16.5, "rowPadding": 2, "symbolSize": 135, "symbolStrokeWidth": 1.3, "symbolStrokeColor": "black"}}}},
 {"data": {"name": "bD"}, "transform": [{"calculate": "indexof(['mock','CAR3.28z','CAR5.28z'], datum.cell) + (datum.treat === 'Fc' ? -0.191 : 0.191)", "as": "px"}],
  "mark": {"type": "line", "color": "black", "strokeWidth": 1.2},
  "encoding": {"x": {"field": "px", "type": "quantitative"}, "y": {"field": "lvl", "type": "quantitative"}, "detail": {"field": "cell", "type": "nominal"}}},
 {"data": {"name": "bD"}, "transform": [{"calculate": "indexof(['mock','CAR3.28z','CAR5.28z'], datum.cell) + (datum.treat === 'Fc' ? -0.191 : 0.191)", "as": "px"}],
  "mark": {"type": "point", "shape": "M0,0L0,1", "filled": false, "stroke": "black", "strokeWidth": 1.2, "size": 64, "opacity": 1},
  "encoding": {"x": {"field": "px", "type": "quantitative"}, "y": {"field": "lvl", "type": "quantitative"}}},
 {"data": {"name": "bD"}, "transform": [{"filter": "datum.treat === 'Fc'"}, {"calculate": "indexof(['mock','CAR3.28z','CAR5.28z'], datum.cell)", "as": "pc"}],
  "mark": {"type": "text", "baseline": "bottom", "dy": -2, "fontSize": 14, "font": "Liberation Sans", "color": "black"},
  "encoding": {"x": {"field": "pc", "type": "quantitative"}, "y": {"field": "lvl", "type": "quantitative"}, "text": {"field": "p"}}},
 {"data": {"name": "bD"}, "transform": [{"calculate": "indexof(['mock','CAR3.28z','CAR5.28z'], datum.cell) + (datum.treat === 'Fc' ? -0.191 : 0.191)", "as": "px"}],
  "mark": {"type": "line", "color": "black", "strokeWidth": 1.2},
  "encoding": {"x": {"field": "px", "type": "quantitative"}, "y": {"datum": -2200}, "detail": {"field": "cell", "type": "nominal"}}},
 {"data": {"name": "bD"}, "transform": [{"calculate": "indexof(['mock','CAR3.28z','CAR5.28z'], datum.cell) + (datum.treat === 'Fc' ? -0.191 : 0.191)", "as": "px"}],
  "mark": {"type": "point", "shape": "M0,0L0,-1", "filled": false, "stroke": "black", "strokeWidth": 1.2, "size": 64, "opacity": 1},
  "encoding": {"x": {"field": "px", "type": "quantitative"}, "y": {"datum": -2200}}}
 ]},
{"width": 288, "height": 209,
 "title": {"text": "E", "anchor": "start", "frame": "bounds", "font": "Liberation Sans", "fontSize": 19, "fontWeight": "bold", "color": "black", "offset": -10.5, "dx": -5},
 "layer": [
 {"data": {"name": "dE"}, "transform": [{"calculate": "indexof(['mock','CAR3.28z','CAR5.28z'], datum.cell) + (datum.treat === 'CHO' ? -0.191 : 0.191)", "as": "px"}],
  "mark": {"type": "line", "color": "black", "strokeWidth": 1},
  "encoding": {
   "x": {"field": "px", "type": "quantitative", "scale": {"domain": [-0.452, 2.442], "nice": false, "zero": false}, "axis": {"values": [0, 1, 2], "labelExpr": "['mock','CAR3.28z','CAR5.28z'][datum.value]", "title": null, "ticks": false, "labelFlush": false, "labelOverlap": false, "labelFontSize": 16, "labelColor": "black", "labelPadding": 19, "domainColor": "black", "domainWidth": 1.4}},
   "y": {"field": "v", "type": "quantitative", "scale": {"domain": [0, 90000], "nice": false}, "axis": {"values": [0, 20000, 40000, 60000, 80000], "format": "d", "title": "IFNγ (pg/ml)", "titleFontSize": 15, "titleFontWeight": "normal", "titleColor": "black", "titlePadding": 6, "labelFontSize": 14, "labelColor": "black", "labelPadding": 2, "labelFlush": false, "tickSize": 7, "tickColor": "black", "tickWidth": 1.3, "domainColor": "black", "domainWidth": 1.4}},
   "detail": [{"field": "cell", "type": "nominal"}, {"field": "donor", "type": "nominal"}]}},
 {"data": {"name": "dE"}, "transform": [{"filter": "datum.treat === 'CHO'"}, {"calculate": "indexof(['mock','CAR3.28z','CAR5.28z'], datum.cell) - 0.191", "as": "px"}],
  "mark": {"type": "point", "shape": "triangle-up", "filled": true, "fill": "white", "stroke": "black", "strokeWidth": 1.4, "opacity": 1, "size": 70},
  "encoding": {"x": {"field": "px", "type": "quantitative"}, "y": {"field": "v", "type": "quantitative"}}},
 {"data": {"name": "dE"}, "transform": [{"filter": "datum.treat !== 'CHO'"}, {"calculate": "indexof(['mock','CAR3.28z','CAR5.28z'], datum.cell) + 0.191", "as": "px"}],
  "mark": {"type": "point", "shape": "circle", "filled": true, "fill": "black", "stroke": "black", "strokeWidth": 1, "opacity": 1, "size": 75},
  "encoding": {"x": {"field": "px", "type": "quantitative"}, "y": {"field": "v", "type": "quantitative"}}},
 {"data": {"name": "dE"}, "transform": [{"filter": "false"}],
  "mark": {"type": "point", "filled": false, "color": "black", "strokeWidth": 1.3, "opacity": 1, "size": 135},
  "encoding": {
   "shape": {"field": "treat", "type": "nominal", "scale": {"domain": ["CHO", "CHO + hCLEC14A"], "range": ["M-1.9,0L-0.42,0M0.42,0L1.9,0M0,-0.75L0.7,0.45L-0.7,0.45Z", "M-1.9,0L1.9,0M0.68,0A0.68,0.68,0,1,1,-0.68,0A0.68,0.68,0,1,1,0.68,0M0.5,0A0.5,0.5,0,1,1,-0.5,0A0.5,0.5,0,1,1,0.5,0M0.32,0A0.32,0.32,0,1,1,-0.32,0A0.32,0.32,0,1,1,0.32,0M0.14,0A0.14,0.14,0,1,1,-0.14,0A0.14,0.14,0,1,1,0.14,0"]},
    "legend": {"title": null, "orient": "none", "legendX": 5.2, "legendY": -20.5, "padding": 0, "labelFontSize": 17, "labelColor": "black", "labelOffset": 18.2, "rowPadding": 4, "symbolSize": 135, "symbolStrokeWidth": 1.3, "symbolStrokeColor": "black"}}}},
 {"data": {"name": "bE"}, "transform": [{"calculate": "indexof(['mock','CAR3.28z','CAR5.28z'], datum.cell) + (datum.treat === 'CHO' ? -0.191 : 0.191)", "as": "px"}],
  "mark": {"type": "line", "color": "black", "strokeWidth": 1.2},
  "encoding": {"x": {"field": "px", "type": "quantitative"}, "y": {"field": "lvl", "type": "quantitative"}, "detail": {"field": "cell", "type": "nominal"}}},
 {"data": {"name": "bE"}, "transform": [{"calculate": "indexof(['mock','CAR3.28z','CAR5.28z'], datum.cell) + (datum.treat === 'CHO' ? -0.191 : 0.191)", "as": "px"}],
  "mark": {"type": "point", "shape": "M0,0L0,1", "filled": false, "stroke": "black", "strokeWidth": 1.2, "size": 64, "opacity": 1},
  "encoding": {"x": {"field": "px", "type": "quantitative"}, "y": {"field": "lvl", "type": "quantitative"}}},
 {"data": {"name": "bE"}, "transform": [{"filter": "datum.treat === 'CHO'"}, {"calculate": "indexof(['mock','CAR3.28z','CAR5.28z'], datum.cell)", "as": "pc"}],
  "mark": {"type": "text", "baseline": "bottom", "dy": -2, "fontSize": 14, "font": "Liberation Sans", "color": "black"},
  "encoding": {"x": {"field": "pc", "type": "quantitative"}, "y": {"field": "lvl", "type": "quantitative"}, "text": {"field": "p"}}},
 {"data": {"name": "bE"}, "transform": [{"calculate": "indexof(['mock','CAR3.28z','CAR5.28z'], datum.cell) + (datum.treat === 'CHO' ? -0.191 : 0.191)", "as": "px"}],
  "mark": {"type": "line", "color": "black", "strokeWidth": 1.2},
  "encoding": {"x": {"field": "px", "type": "quantitative"}, "y": {"datum": -5200}, "detail": {"field": "cell", "type": "nominal"}}},
 {"data": {"name": "bE"}, "transform": [{"calculate": "indexof(['mock','CAR3.28z','CAR5.28z'], datum.cell) + (datum.treat === 'CHO' ? -0.191 : 0.191)", "as": "px"}],
  "mark": {"type": "point", "shape": "M0,0L0,-1", "filled": false, "stroke": "black", "strokeWidth": 1.2, "size": 64, "opacity": 1},
  "encoding": {"x": {"field": "px", "type": "quantitative"}, "y": {"datum": -5200}}}
 ]}
]},
{"width": 288, "height": 207,
 "title": {"text": "F", "anchor": "start", "frame": "bounds", "font": "Liberation Sans", "fontSize": 19, "fontWeight": "bold", "color": "black", "offset": 9, "dx": -2},
 "layer": [
 {"data": {"name": "dF"}, "transform": [{"calculate": "indexof(['mock','CAR3.28z','CAR5.28z'], datum.cell) + (datum.treat === 'medium' ? -0.191 : 0.191)", "as": "px"}],
  "mark": {"type": "line", "color": "black", "strokeWidth": 1},
  "encoding": {
   "x": {"field": "px", "type": "quantitative", "scale": {"domain": [-0.452, 2.442], "nice": false, "zero": false}, "axis": {"values": [0, 1, 2], "labelExpr": "['mock','CAR3.28z','CAR5.28z'][datum.value]", "title": null, "ticks": false, "labelFlush": false, "labelOverlap": false, "labelFontSize": 16, "labelColor": "black", "labelPadding": 18, "domainColor": "black", "domainWidth": 1.4}},
   "y": {"field": "v", "type": "quantitative", "scale": {"domain": [0, 50000], "nice": false}, "axis": {"values": [0, 10000, 20000, 30000, 40000, 50000], "format": "d", "title": "IFNγ (pg/ml)", "titleFontSize": 15, "titleFontWeight": "normal", "titleColor": "black", "titlePadding": 6, "labelFontSize": 14, "labelColor": "black", "labelPadding": 2, "labelFlush": false, "tickSize": 7, "tickColor": "black", "tickWidth": 1.3, "domainColor": "black", "domainWidth": 1.4}},
   "detail": [{"field": "cell", "type": "nominal"}, {"field": "donor", "type": "nominal"}]}},
 {"data": {"name": "dF"}, "transform": [{"filter": "datum.treat === 'medium'"}, {"calculate": "indexof(['mock','CAR3.28z','CAR5.28z'], datum.cell) - 0.191", "as": "px"}],
  "mark": {"type": "point", "shape": "triangle-up", "filled": true, "fill": "white", "stroke": "black", "strokeWidth": 1.4, "opacity": 1, "size": 70},
  "encoding": {"x": {"field": "px", "type": "quantitative"}, "y": {"field": "v", "type": "quantitative"}}},
 {"data": {"name": "dF"}, "transform": [{"filter": "datum.treat !== 'medium'"}, {"calculate": "indexof(['mock','CAR3.28z','CAR5.28z'], datum.cell) + 0.191", "as": "px"}],
  "mark": {"type": "point", "shape": "circle", "filled": true, "fill": "black", "stroke": "black", "strokeWidth": 1, "opacity": 1, "size": 75},
  "encoding": {"x": {"field": "px", "type": "quantitative"}, "y": {"field": "v", "type": "quantitative"}}},
 {"data": {"name": "dF"}, "transform": [{"filter": "false"}],
  "mark": {"type": "point", "filled": false, "color": "black", "strokeWidth": 1.3, "opacity": 1, "size": 135},
  "encoding": {
   "shape": {"field": "treat", "type": "nominal", "scale": {"domain": ["medium", "HUVECs"], "range": ["M-1.9,0L-0.42,0M0.42,0L1.9,0M0,-0.75L0.7,0.45L-0.7,0.45Z", "M-1.9,0L1.9,0M0.68,0A0.68,0.68,0,1,1,-0.68,0A0.68,0.68,0,1,1,0.68,0M0.5,0A0.5,0.5,0,1,1,-0.5,0A0.5,0.5,0,1,1,0.5,0M0.32,0A0.32,0.32,0,1,1,-0.32,0A0.32,0.32,0,1,1,0.32,0M0.14,0A0.14,0.14,0,1,1,-0.14,0A0.14,0.14,0,1,1,0.14,0"]},
    "legend": {"title": null, "orient": "none", "legendX": 16.2, "legendY": -5.5, "padding": 0, "labelFontSize": 17, "labelColor": "black", "labelOffset": 18.2, "rowPadding": 6, "symbolSize": 135, "symbolStrokeWidth": 1.3, "symbolStrokeColor": "black"}}}},
 {"data": {"name": "bF"}, "transform": [{"calculate": "indexof(['mock','CAR3.28z','CAR5.28z'], datum.cell) + (datum.treat === 'medium' ? -0.191 : 0.191)", "as": "px"}],
  "mark": {"type": "line", "color": "black", "strokeWidth": 1.2},
  "encoding": {"x": {"field": "px", "type": "quantitative"}, "y": {"field": "lvl", "type": "quantitative"}, "detail": {"field": "cell", "type": "nominal"}}},
 {"data": {"name": "bF"}, "transform": [{"calculate": "indexof(['mock','CAR3.28z','CAR5.28z'], datum.cell) + (datum.treat === 'medium' ? -0.191 : 0.191)", "as": "px"}],
  "mark": {"type": "point", "shape": "M0,0L0,1", "filled": false, "stroke": "black", "strokeWidth": 1.2, "size": 64, "opacity": 1},
  "encoding": {"x": {"field": "px", "type": "quantitative"}, "y": {"field": "lvl", "type": "quantitative"}}},
 {"data": {"name": "bF"}, "transform": [{"filter": "datum.treat === 'medium'"}, {"calculate": "indexof(['mock','CAR3.28z','CAR5.28z'], datum.cell)", "as": "pc"}],
  "mark": {"type": "text", "baseline": "bottom", "dy": -2, "fontSize": 14, "font": "Liberation Sans", "color": "black"},
  "encoding": {"x": {"field": "pc", "type": "quantitative"}, "y": {"field": "lvl", "type": "quantitative"}, "text": {"field": "p"}}},
 {"data": {"name": "bF"}, "transform": [{"calculate": "indexof(['mock','CAR3.28z','CAR5.28z'], datum.cell) + (datum.treat === 'medium' ? -0.191 : 0.191)", "as": "px"}],
  "mark": {"type": "line", "color": "black", "strokeWidth": 1.2},
  "encoding": {"x": {"field": "px", "type": "quantitative"}, "y": {"datum": -2650}, "detail": {"field": "cell", "type": "nominal"}}},
 {"data": {"name": "bF"}, "transform": [{"calculate": "indexof(['mock','CAR3.28z','CAR5.28z'], datum.cell) + (datum.treat === 'medium' ? -0.191 : 0.191)", "as": "px"}],
  "mark": {"type": "point", "shape": "M0,0L0,-1", "filled": false, "stroke": "black", "strokeWidth": 1.2, "size": 64, "opacity": 1},
  "encoding": {"x": {"field": "px", "type": "quantitative"}, "y": {"datum": -2650}}}
 ]}
]}
]
}
